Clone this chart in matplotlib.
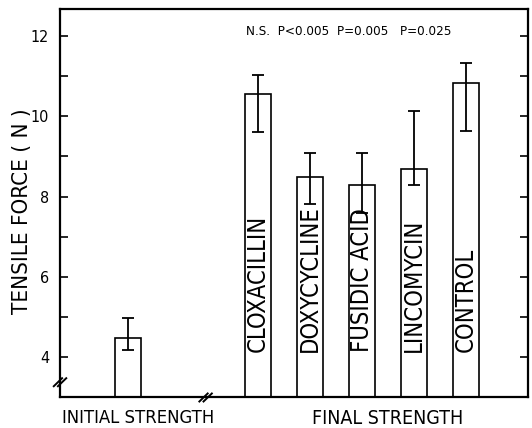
import matplotlib.pyplot as plt
from matplotlib.ticker import MultipleLocator

# data
drugs = ["CLOXACILLIN", "DOXYCYCLINE", "FUSIDIC ACID", "LINCOMYCIN", "CONTROL"]
final_mean = [10.55, 8.48, 8.28, 8.69, 10.84]
final_hi = [11.02, 9.09, 9.09, 10.12, 11.33]
final_lo = [9.60, 7.82, 7.59, 8.28, 9.63]
initial_mean = 4.48
initial_hi = 4.98
initial_lo = 4.19
p_text = "N.S.  P<0.005  P=0.005   P=0.025"

x_init = 0.0
x_final = [2.5, 3.5, 4.5, 5.5, 6.5]

plt.rcParams['font.family'] = ['DejaVu Sans']
plt.rcParams['font.stretch'] = 'condensed'

fig = plt.figure(figsize=(5.32, 4.28), dpi=100)
ax = fig.add_axes([0.1128, 0.0713, 0.8797, 0.9077])

xs = [x_init] + x_final
means = [initial_mean] + final_mean
his = [initial_hi] + final_hi
los = [initial_lo] + final_lo
yerr = [[m - l for m, l in zip(means, los)], [h - m for m, h in zip(means, his)]]

ax.bar(xs, [m - 3.0 for m in means], bottom=3.0, width=0.5, color='white',
       edgecolor='black', linewidth=1.2, zorder=2)
ax.errorbar(xs, means, yerr=yerr, fmt='none', ecolor='black', elinewidth=1.3,
            capsize=4.5, capthick=1.3, zorder=3)

for x, name in zip(x_final, drugs):
    ax.text(x, 4.12, name, rotation=90, ha='center', va='bottom',
            fontsize=17, zorder=4)

ax.text(2.27, 12.1, p_text, ha='left', va='center', fontsize=9.6)

ax.set_xlim(-1.3, 7.7)
ax.set_ylim(3.0, 12.67)
ax.set_xticks([])
ax.yaxis.set_minor_locator(MultipleLocator(1))
ax.set_yticks([4, 6, 8, 10, 12])
ax.tick_params(axis='y', which='both', direction='in', length=6, width=1.2,
               left=True, right=True, labelsize=11.5, pad=8)
for s in ax.spines.values():
    s.set_linewidth(1.6)

fig.text(22 / 532, 1 - 211 / 428, "TENSILE FORCE ( N )", rotation=90,
         ha='center', va='center', fontsize=16)

# axis breaks
for xb, yb in [(-1.3, 3.38), (1.5, 3.0)]:
    for dx in (-0.04, 0.04):
        ax.plot([xb + dx - 0.08, xb + dx + 0.08], [yb - 0.1, yb + 0.1],
                color='black', lw=1.4, clip_on=False, zorder=5)

fig.text(138 / 532, 1 - 418 / 428, "INITIAL STRENGTH", ha='center',
         va='center', fontsize=13.2)
fig.text(387.5 / 532, 1 - 418 / 428, "FINAL STRENGTH", ha='center',
         va='center', fontsize=14)

fig.savefig("out.png", dpi=100)
